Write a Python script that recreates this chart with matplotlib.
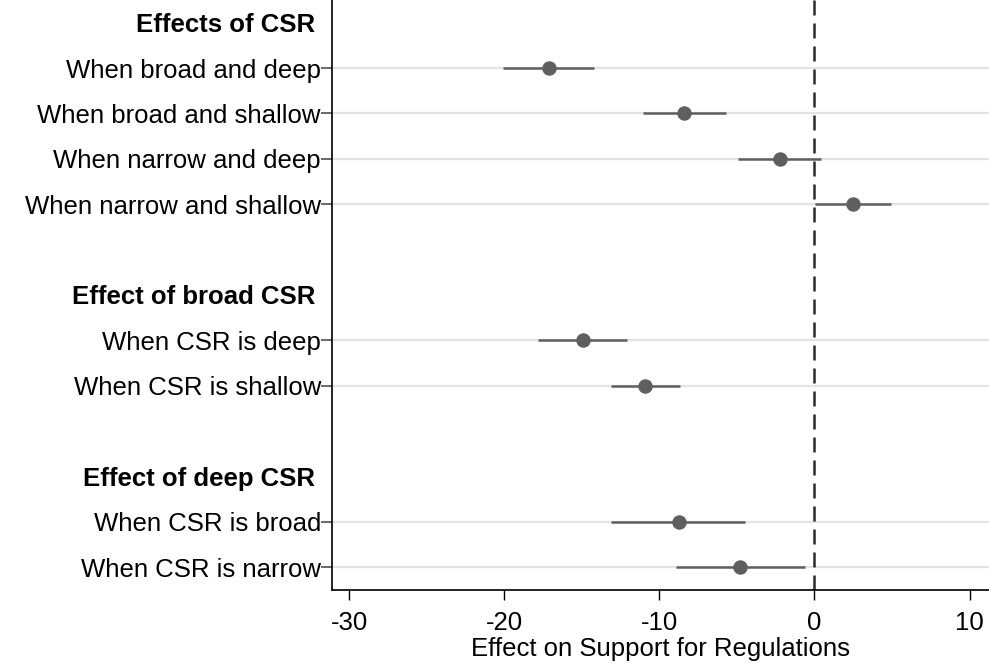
import numpy as np
import matplotlib
matplotlib.use('Agg')

import matplotlib.pyplot as plt

plt.rcParams['font.family'] = ['Liberation Sans', 'DejaVu Sans']

# group headers and their row positions
headers = ['Effects of CSR', 'Effect of broad CSR', 'Effect of deep CSR']
headerRows = [0, 6, 10]

# coefficient rows
labels = ['When broad and deep', 'When broad and shallow',
          'When narrow and deep', 'When narrow and shallow',
          'When CSR is deep', 'When CSR is shallow',
          'When CSR is broad', 'When CSR is narrow']
rows = [1, 2, 3, 4, 7, 8, 11, 12]
estimates = [-17.1, -8.4, -2.25, 2.5, -14.95, -10.9, -8.75, -4.8]
ciLow = [-20.05, -11.05, -4.9, 0.05, -17.8, -13.1, -13.1, -8.9]
ciHigh = [-14.2, -5.7, 0.4, 4.95, -12.1, -8.7, -4.45, -0.6]

xTicks = [-30, -20, -10, 0, 10]

pointColor = '#5f5f5f'
fs = 18.5

fig = plt.figure(figsize=(9.89, 6.68), dpi=100)
ax = fig.add_axes([332/989, 1 - 590/668, (989 - 332)/989, 590/668])

for r in rows:
    ax.axhline(r, color='#e3e3e3', lw=1.6, zorder=1)

ax.axvline(0, color='#2b2b2b', lw=1.8, dashes=(6, 3.2), zorder=2)

ax.hlines(rows, ciLow, ciHigh, color=pointColor, lw=1.8, zorder=3)
ax.plot(estimates, rows, 'o', color=pointColor, ms=9.4, zorder=4)

ax.set_xlim(-31.1, 11.25)
ax.set_ylim(12.5, -0.5)

ax.set_yticks(rows)
ax.set_yticklabels(labels, fontsize=fs)
ax.tick_params(axis='y', length=8, width=1.2, color='#505050', pad=0)

ax.set_xticks(xTicks)
ax.set_xticklabels([str(t) for t in xTicks], fontsize=fs)
ax.tick_params(axis='x', length=7.5, width=1, color='black', pad=7.5)
ax.set_xlabel('Effect on Support for Regulations', fontsize=fs, labelpad=1.5)

for h, r in zip(headers, headerRows):
    ax.text(-0.026, r, h, transform=ax.get_yaxis_transform(),
            ha='right', va='center_baseline', fontsize=fs, fontweight='bold')

for side in ['top', 'right']:
    ax.spines[side].set_visible(False)
ax.spines['left'].set_linewidth(1.2)
ax.spines['bottom'].set_linewidth(1.2)

plt.savefig('out.png', dpi=100)
